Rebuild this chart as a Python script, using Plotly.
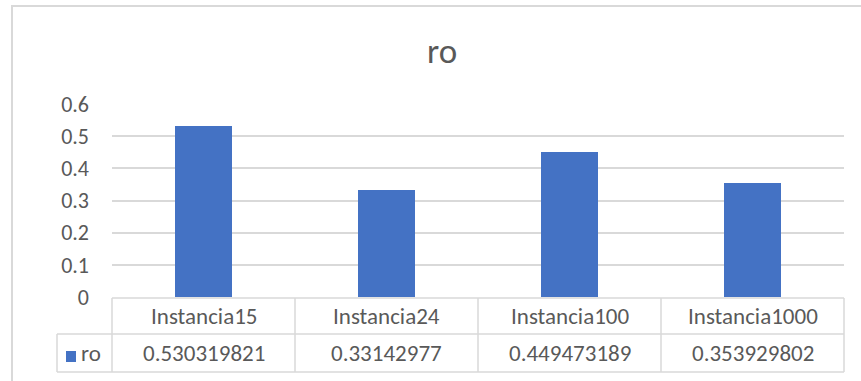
import plotly.graph_objects as go

# Chart data
categories = ["Instancia15", "Instancia24", "Instancia100", "Instancia1000"]
series_name = "ro"
values = [0.530319821, 0.33142977, 0.449473189, 0.353929802]
y_ticks = [0, 0.1, 0.2, 0.3, 0.4, 0.5, 0.6]
y_tick_labels = ["0", "0.1", "0.2", "0.3", "0.4", "0.5", "0.6"]

W, H = 861, 381
M_L, M_R, M_T, M_B = 112, 17, 104, 84
PLOT_W = W - M_L - M_R
PLOT_H = H - M_T - M_B

BAR_COLOR = "#4472C4"
GRID = "#D9D9D9"
TEXT = "#595959"
FONT = "Carlito, Calibri, Lato, sans-serif"
TABLE_SIZE = 23


def px_x(px):
    return (px - M_L) / PLOT_W


def px_y(py):
    return (H - M_B - py) / PLOT_H


fig = go.Figure()
fig.add_trace(go.Bar(
    x=categories, y=values, name=series_name,
    marker=dict(color=BAR_COLOR, line=dict(width=0)),
    width=0.31, showlegend=False, hoverinfo="x+y",
))

shapes = []
annotations = []

# outer chart frame
shapes.append(dict(type="rect", xref="paper", yref="paper",
                   x0=px_x(12), x1=px_x(900), y0=px_y(420), y1=px_y(6),
                   line=dict(color=GRID, width=2), fillcolor="rgba(0,0,0,0)", layer="below"))

# data table beneath the axis
n = len(categories)
row_top, row_mid, row_bot = px_y(298), px_y(334), px_y(372)
legend_left = px_x(57)
line_style = dict(color=GRID, width=1.5)
shapes.append(dict(type="line", xref="paper", yref="paper", x0=0, x1=1, y0=row_top, y1=row_top, line=line_style))
shapes.append(dict(type="line", xref="paper", yref="paper", x0=legend_left, x1=1, y0=row_mid, y1=row_mid, line=line_style))
shapes.append(dict(type="line", xref="paper", yref="paper", x0=legend_left, x1=1, y0=row_bot, y1=row_bot, line=line_style))
shapes.append(dict(type="line", xref="paper", yref="paper", x0=legend_left, x1=legend_left, y0=row_bot, y1=row_mid, line=line_style))
for i in range(n + 1):
    xb = i / n
    shapes.append(dict(type="line", xref="paper", yref="paper", x0=xb, x1=xb, y0=row_bot, y1=row_top, line=line_style))

# legend key in the table
shapes.append(dict(type="rect", xref="paper", yref="paper",
                   x0=px_x(66), x1=px_x(76), y0=px_y(362), y1=px_y(351),
                   line=dict(width=0), fillcolor=BAR_COLOR))
annotations.append(dict(xref="paper", yref="paper", x=px_x(79), y=(row_mid + row_bot) / 2,
                        text=series_name, showarrow=False, xanchor="left", yanchor="middle",
                        font=dict(family=FONT, size=TABLE_SIZE, color=TEXT)))

for i, (cat, val) in enumerate(zip(categories, values)):
    xc = (i + 0.5) / n
    annotations.append(dict(xref="paper", yref="paper", x=xc, y=(row_top + row_mid) / 2,
                            text=cat, showarrow=False, xanchor="center", yanchor="middle",
                            font=dict(family=FONT, size=TABLE_SIZE, color=TEXT)))
    annotations.append(dict(xref="paper", yref="paper", x=xc, y=(row_mid + row_bot) / 2,
                            text=str(val), showarrow=False, xanchor="center", yanchor="middle",
                            font=dict(family=FONT, size=TABLE_SIZE, color=TEXT)))

# chart title
annotations.append(dict(xref="paper", yref="paper", x=px_x(442), y=px_y(51),
                        text=series_name, showarrow=False, xanchor="center", yanchor="middle",
                        font=dict(family=FONT, size=35, color=TEXT)))

fig.update_layout(
    width=W, height=H,
    margin=dict(l=M_L, r=M_R, t=M_T, b=M_B, pad=0),
    paper_bgcolor="white", plot_bgcolor="white",
    shapes=shapes, annotations=annotations,
    bargap=0,
    xaxis=dict(showticklabels=False, showgrid=False, zeroline=False, showline=False,
               range=[-0.5, n - 0.5], fixedrange=True),
    yaxis=dict(range=[0, 0.6], tickvals=y_ticks, ticktext=y_tick_labels,
               showgrid=True, gridcolor=GRID, gridwidth=1.5, zeroline=False, showline=False,
               ticklabelstandoff=22,
               tickfont=dict(family=FONT, size=22, color=TEXT), fixedrange=True),
)

fig.write_html("out.html")
